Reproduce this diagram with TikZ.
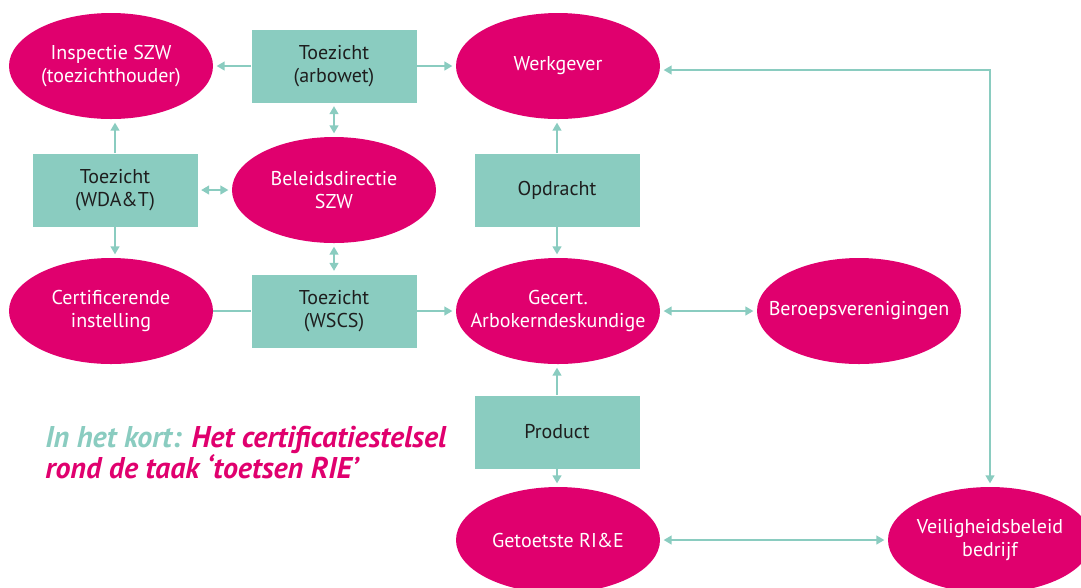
\documentclass[tikz,border=0pt]{standalone}
\usepackage{fontspec}
\setmainfont{PT Sans}
\usetikzlibrary{shapes.geometric,arrows.meta}

\definecolor{rozeSZW}{RGB}{224,0,110}
\definecolor{mintSZW}{RGB}{138,204,192}
\definecolor{tekstSZW}{RGB}{30,30,30}

\tikzset{
    partij/.style={ellipse, fill=rozeSZW, text=white, align=center,
        minimum width=153pt, minimum height=79.5pt, inner xsep=-20pt, inner ysep=0pt,
        font=\fontsize{15}{17.5}\selectfont},
    kader/.style={rectangle, fill=mintSZW, text=tekstSZW, align=center,
        minimum width=123.75pt, minimum height=54.75pt, inner sep=0pt,
        font=\fontsize{15}{17.5}\selectfont},
    lijn/.style={draw=mintSZW, line width=1.5pt},
    pijl/.style={lijn, -{Triangle[length=6pt,width=6.5pt]}, shorten >=2.5pt},
    dubbel/.style={lijn, {Triangle[length=6pt,width=6.5pt]}-{Triangle[length=6pt,width=6.5pt]},
        shorten >=2.5pt, shorten <=2.5pt}
}

\begin{document}
\begin{tikzpicture}[x=0.75pt,y=-0.75pt]
    \clip (0,0) rectangle (1081,587);
    \useasboundingbox (0,0) rectangle (1081,587);

    % ellipsen
    \node[partij] (inspectie) at (111,66)  {Inspectie SZW\\(toezichthouder)};
    \node[partij] (werkgever) at (558,66)  {Werkgever};
    \node[partij] (beleid)    at (334,190) {Beleidsdirectie\\SZW};
    \node[partij] (certif)    at (111,311) {Certificerende\\instelling};
    \node[partij] (gecert)    at (558,311) {Gecert.\\Arbokerndeskundige};
    \node[partij] (beroeps)   at (859,311) {Beroepsverenigingen};
    \node[partij] (getoetst)  at (558,540) {Getoetste RI\&E};
    \node[partij] (veilig)    at (990,540) {Veiligheidsbeleid\\bedrijf};

    % kaders
    \node[kader] (arbowet)  at (334,66)  {Toezicht\\(arbowet)};
    \node[kader] (wdat)     at (115,190) {Toezicht\\(WDA\&T)};
    \node[kader] (opdracht) at (557,190) {Opdracht};
    \node[kader] (wscs)     at (334,311) {Toezicht\\(WSCS)};
    \node[kader] (product)  at (557,432) {Product};

    % verbindingen
    \draw[pijl] (arbowet) -- (inspectie);
    \draw[pijl] (arbowet) -- (werkgever);
    \draw[dubbel] (arbowet) -- (beleid);
    \draw[pijl] (wdat) -- (wdat |- inspectie.south);
    \draw[pijl] (wdat) -- (wdat |- certif.north);
    \draw[dubbel] (wdat) -- (beleid);
    \draw[dubbel] (beleid) -- (wscs);
    \draw[lijn] (certif) -- (wscs);
    \draw[pijl] (wscs) -- (gecert);
    \draw[pijl] (opdracht) -- (opdracht |- werkgever.south);
    \draw[pijl] (opdracht) -- (opdracht |- gecert.north);
    \draw[dubbel] (gecert) -- (beroeps);
    \draw[pijl] (product) -- (product |- gecert.south);
    \draw[pijl] (product) -- (product |- getoetst.north);
    \draw[dubbel] (getoetst) -- (veilig);
    \draw[dubbel] ([yshift=-3pt]werkgever.east) -| (veilig.north);

    % titel
    \node[anchor=north west, align=left, inner sep=0pt,
        font=\fontsize{22.5}{23.5}\selectfont\bfseries\itshape] (titel) at (45,426)
        {\textcolor{mintSZW}{In het kort:} \textcolor{rozeSZW}{Het certificatiestelsel}\\
         \textcolor{rozeSZW}{rond de taak ‘toetsen RIE’}};
\end{tikzpicture}
\end{document}
